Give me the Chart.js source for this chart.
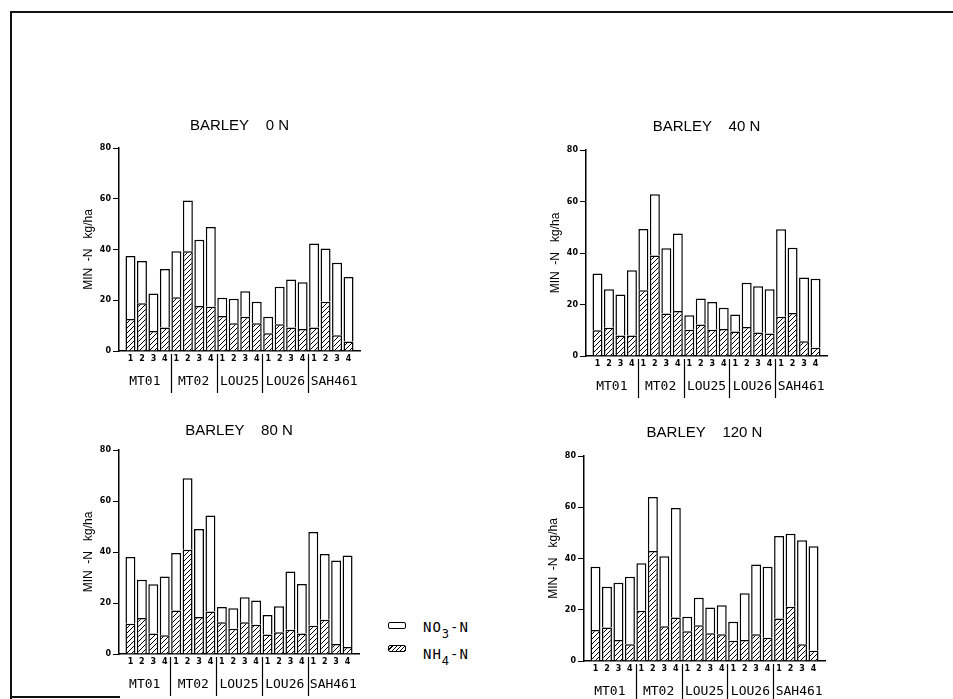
<!DOCTYPE html>
<html>
<head>
<meta charset="utf-8">
<script src="https://cdn.jsdelivr.net/npm/chart.js@4.4.1/dist/chart.umd.min.js"></script>
<style>
  html, body { margin: 0; padding: 0; background: #fff; }
  body { width: 953px; height: 699px; position: relative; overflow: hidden; }
  canvas { position: absolute; }
  .frame { position: absolute; left: 10px; top: 11px; width: 960px; height: 700px;
           border-top: 2px solid #111; border-left: 2px solid #111; }
  .foot { position: absolute; left: 10px; top: 696px; width: 110px; height: 2px; background: #111; }
  .sw { position: absolute; width: 16px; height: 5px; border: 1.5px solid #000; border-radius: 2px; background: #fff; }
  .hatch { background: repeating-linear-gradient(135deg, #fff 0 2px, #000 2px 3px); }
  .lt { position: absolute; font: 14px "DejaVu Sans Mono", monospace; line-height: 1; letter-spacing: 1px; color: #000; }
  .lt span { position: relative; top: 6px; font-size: 12px; }
</style>
</head>
<body>
<div class="frame"></div>
<div class="foot"></div>

<div class="sw" style="left:388px; top:622px"></div>
<div class="lt" style="left:423px; top:620px">NO<span>3</span>-N</div>
<div class="sw hatch" style="left:388px; top:645px"></div>
<div class="lt" style="left:423px; top:647px">NH<span>4</span>-N</div>

<script>
// sites and replicate numbers along the x axis
const sites = ["MT01", "MT02", "LOU25", "LOU26", "SAH461"];
const reps = ["1", "2", "3", "4"];
const titles = ["BARLEY    0 N", "BARLEY    40 N", "BARLEY    80 N", "BARLEY    120 N"];
const yTicks = [0, 20, 40, 60, 80];

// MIN-N kg/ha (NH4 hatched at bottom, NO3 open on top)
const nh4_0N   = [12.6, 18.8, 7.9, 9.3,  21.2, 39.3, 17.7, 17.4,  13.8, 10.9, 13.5, 10.9,  7.0, 10.5, 9.3, 8.7,  9.3, 19.4, 6.2, 3.7];
const no3_0N   = [24.8, 16.7, 14.8, 23.0, 18.1, 20.0, 26.1, 31.5, 7.2, 9.7, 10.0, 8.5,   6.5, 14.8, 18.9, 18.4, 33.1, 21.0, 28.6, 25.5];
const nh4_40N  = [10.0, 11.0, 8.0, 8.0,  25.5, 39.0, 16.5, 17.5,  10.2, 12.2, 10.2, 10.5,  9.5, 11.3, 9.1, 8.7,  15.2, 16.7, 5.7, 3.2];
const no3_40N  = [22.0, 14.9, 15.9, 25.3, 23.8, 23.8, 25.3, 30.1, 5.6, 10.1, 10.8, 8.2,   6.6, 17.1, 18.0, 17.2, 34.0, 25.3, 24.8, 26.8];
const nh4_80N  = [11.9, 14.1, 8.0, 7.4,  17.1, 40.9, 14.5, 16.7,  12.5, 9.9, 12.5, 11.5,   7.6, 8.5, 9.5, 8.0,   11.1, 13.4, 3.9, 2.7];
const no3_80N  = [26.1, 15.0, 19.4, 23.0, 22.5, 28.0, 34.5, 37.6, 5.9, 8.0, 9.8, 9.5,     7.7, 10.2, 22.9, 19.5, 36.7, 25.8, 32.8, 35.9];
const nh4_120N = [12.1, 13.1, 8.2, 6.5,  19.6, 42.9, 13.6, 17.0,  11.6, 14.0, 10.8, 10.4,  7.9, 8.2, 10.4, 9.1,  16.6, 21.2, 6.5, 4.0];
const no3_120N = [24.7, 15.9, 22.3, 26.4, 18.5, 21.1, 27.3, 42.7, 5.7, 10.7, 10.1, 11.4,  7.4, 18.2, 27.3, 27.7, 32.2, 28.5, 40.6, 40.8];

const nh4Series = [nh4_0N, nh4_40N, nh4_80N, nh4_120N];
const no3Series = [no3_0N, no3_40N, no3_80N, no3_120N];

// canvas box [x, y, w, h] and plot area [left, top, right, bottom] on the page
const panels = [
  { box: [0, 0, 476, 400],   area: [119, 148, 360, 351], titleDy: 22 },
  { box: [476, 0, 477, 400], area: [586, 150, 827, 356], titleDy: 23 },
  { box: [0, 400, 476, 299], area: [119, 450, 359, 654], titleDy: 19 },
  { box: [476, 400, 477, 299], area: [584, 456, 825, 661], titleDy: 23 }
];
const Y_AXIS_W = 42;
const X_MAX = 21;

function makeHatch(ctx) {
  const c = document.createElement("canvas");
  c.width = c.height = 5;
  const g = c.getContext("2d");
  g.fillStyle = "#fff";
  g.fillRect(0, 0, 5, 5);
  g.strokeStyle = "#000";
  g.lineWidth = 1;
  g.beginPath();
  g.moveTo(0, 5); g.lineTo(5, 0);
  g.moveTo(-1, 1); g.lineTo(1, -1);
  g.moveTo(4, 6); g.lineTo(6, 4);
  g.stroke();
  return ctx.createPattern(c, "repeat");
}

// title, replicate numbers, site names and separators
const decor = {
  id: "decor",
  afterDraw(chart, args, opts) {
    const ctx = chart.ctx;
    const a = chart.chartArea;
    const xs = chart.scales.x;
    ctx.save();
    ctx.fillStyle = "#000";
    ctx.strokeStyle = "#000";
    ctx.textAlign = "center";
    ctx.textBaseline = "middle";

    ctx.font = "15px 'Liberation Sans', Arial, sans-serif";
    ctx.fillText(opts.title, (a.left + a.right) / 2, a.top - opts.titleDy);

    ctx.font = "bold 8px 'DejaVu Sans', sans-serif";
    let n = 1;
    sites.forEach(() => {
      reps.forEach(r => {
        ctx.fillText(r, xs.getPixelForValue(n), a.bottom + 8);
        n++;
      });
    });

    // site names centred in the span between separators (axis ends for the outer ones)
    ctx.font = "13px 'DejaVu Sans Mono', monospace";
    sites.forEach((s, i) => {
      const lo = i === 0 ? 0 : i * reps.length + 0.5;
      const hi = i === sites.length - 1 ? X_MAX : (i + 1) * reps.length + 0.5;
      ctx.fillText(s, xs.getPixelForValue((lo + hi) / 2), a.bottom + 31);
    });

    ctx.lineWidth = 1.2;
    for (let i = 1; i < sites.length; i++) {
      const x = Math.round(xs.getPixelForValue(i * reps.length + 0.5)) + 0.5;
      ctx.beginPath();
      ctx.moveTo(x, a.bottom + 3);
      ctx.lineTo(x, a.bottom + 42);
      ctx.stroke();
    }
    ctx.restore();
  }
};

panels.forEach((p, k) => {
  const cv = document.createElement("canvas");
  const [bx, by, bw, bh] = p.box;
  const [l, t, r, b] = p.area;
  cv.width = bw; cv.height = bh;
  cv.style.left = bx + "px"; cv.style.top = by + "px";
  cv.style.width = bw + "px"; cv.style.height = bh + "px";
  document.body.appendChild(cv);
  const ctx = cv.getContext("2d");

  const toPoints = arr => arr.map((v, i) => ({ x: i + 1, y: v }));

  new Chart(ctx, {
    type: "bar",
    data: {
      datasets: [
        {
          label: "NH4-N",
          data: toPoints(nh4Series[k]),
          backgroundColor: makeHatch(ctx),
          borderColor: "#000",
          borderWidth: 1.5
        },
        {
          label: "NO3-N",
          data: toPoints(no3Series[k]),
          backgroundColor: "#fff",
          borderColor: "#000",
          borderWidth: 1.5
        }
      ]
    },
    options: {
      responsive: false,
      animation: false,
      layout: {
        padding: { left: l - bx - Y_AXIS_W, top: t - by, right: bx + bw - r, bottom: by + bh - b }
      },
      barPercentage: 0.87,
      categoryPercentage: 1.0,
      scales: {
        x: {
          type: "linear",
          stacked: true,
          min: 0,
          max: X_MAX,
          offset: false,
          grid: { display: false, offset: false },
          ticks: { display: false },
          border: { display: true, color: "#000", width: 1.5 },
          afterFit: s => { s.height = 0; }
        },
        y: {
          stacked: true,
          min: 0,
          max: 80,
          afterBuildTicks: s => { s.ticks = yTicks.map(v => ({ value: v })); },
          grid: { display: true, drawOnChartArea: false, drawTicks: true, tickLength: 6, color: "#000", lineWidth: 1 },
          border: { display: true, color: "#000", width: 1.5 },
          ticks: { padding: 2, color: "#000", font: { family: "'DejaVu Sans', sans-serif", size: 8, weight: "bold" } },
          title: {
            display: true,
            text: "MIN  -N   kg/ha",
            color: "#000",
            padding: 4,
            font: { family: "'Liberation Sans', Arial, sans-serif", size: 12 }
          },
          afterFit: s => { s.width = Y_AXIS_W; }
        }
      },
      plugins: {
        legend: { display: false },
        tooltip: { enabled: false },
        decor: { title: titles[k], titleDy: p.titleDy }
      }
    },
    plugins: [decor]
  });
});
</script>
</body>
</html>
